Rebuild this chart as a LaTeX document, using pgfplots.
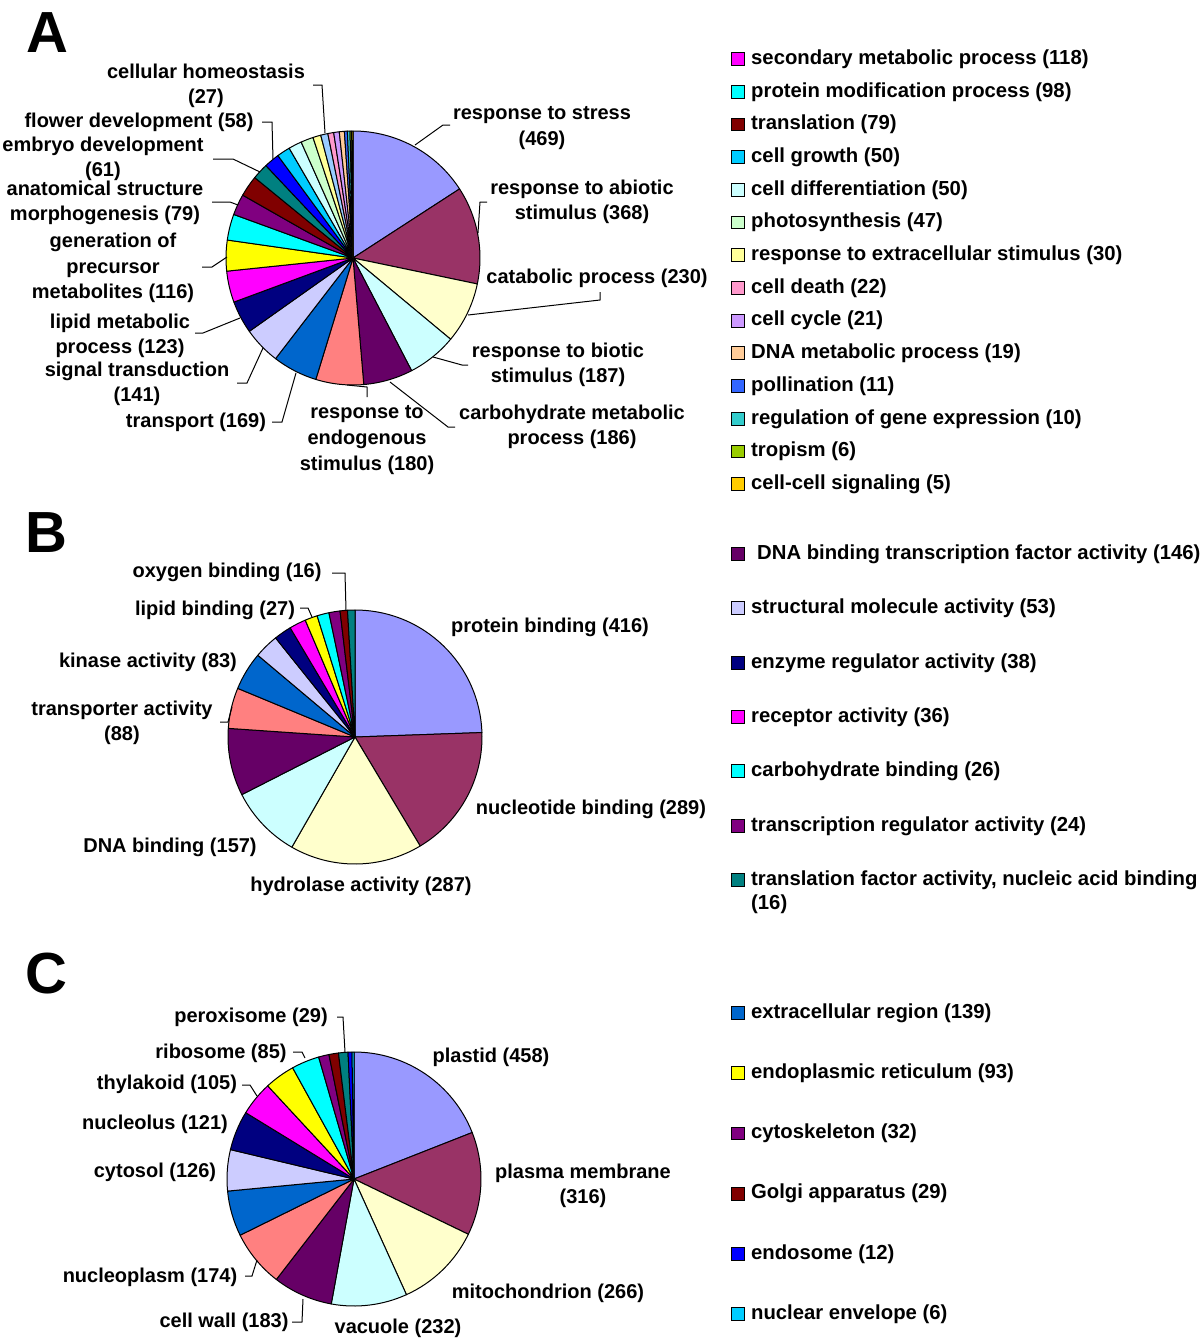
\documentclass[border=0pt]{standalone}
\usepackage{pgfplots}
\pgfplotsset{compat=1.18}
\usepackage{fontspec}
\setmainfont{Liberation Sans}
\definecolor{s1}{HTML}{9999FF}\definecolor{s2}{HTML}{993366}\definecolor{s3}{HTML}{FFFFCC}
\definecolor{s4}{HTML}{CCFFFF}\definecolor{s5}{HTML}{660066}\definecolor{s6}{HTML}{FF8080}
\definecolor{s7}{HTML}{0066CC}\definecolor{s8}{HTML}{CCCCFF}\definecolor{s9}{HTML}{000080}
\definecolor{s10}{HTML}{FF00FF}\definecolor{s11}{HTML}{FFFF00}\definecolor{s12}{HTML}{00FFFF}
\definecolor{s13}{HTML}{800080}\definecolor{s14}{HTML}{800000}\definecolor{s15}{HTML}{008080}
\definecolor{s16}{HTML}{0000FF}\definecolor{s17}{HTML}{00CCFF}\definecolor{s18}{HTML}{CCFFFF}
\definecolor{s19}{HTML}{CCFFCC}\definecolor{s20}{HTML}{FFFF99}\definecolor{s21}{HTML}{99CCFF}
\definecolor{s22}{HTML}{FF99CC}\definecolor{s23}{HTML}{CC99FF}\definecolor{s24}{HTML}{FFCC99}
\definecolor{s25}{HTML}{3366FF}\definecolor{s26}{HTML}{33CCCC}\definecolor{s27}{HTML}{99CC00}
\definecolor{s28}{HTML}{FFCC00}
% data: value/colour, in drawing order (clockwise from 12 o'clock)
\def\dataA{469/s1,368/s2,230/s3,187/s4,186/s5,180/s6,169/s7,141/s8,123/s9,118/s10,116/s11,98/s12,79/s13,79/s14,61/s15,58/s16,50/s17,50/s18,47/s19,30/s20,27/s21,22/s22,21/s23,19/s24,11/s25,10/s26,6/s27,5/s28}
\def\dataB{416/s1,289/s2,287/s3,157/s4,146/s5,88/s6,83/s7,53/s8,38/s9,36/s10,27/s11,26/s12,24/s13,16/s14,16/s15}
\def\dataC{458/s1,316/s2,266/s3,232/s4,183/s5,174/s6,139/s7,126/s8,121/s9,105/s10,93/s11,85/s12,32/s13,29/s14,29/s15,12/s16,6/s17}
\newcommand\drawpie[1]{%
  \gdef\pietot{0}%
  \foreach \v/\c in #1{\pgfmathparse{\pietot+\v}\xdef\pietot{\pgfmathresult}}%
  \gdef\piecum{0}%
  \foreach \v/\c in #1{%
    \pgfmathsetmacro\aS{90-360*(\piecum/\pietot)}%
    \pgfmathparse{\piecum+\v}\xdef\piecum{\pgfmathresult}%
    \pgfmathsetmacro\aE{90-360*(\piecum/\pietot)}%
    \pgfmathsetmacro\xS{cos(\aS)}%
    \pgfmathsetmacro\yS{sin(\aS)}%
    \edef\temp{\noexpand\filldraw[fill=\c,draw=black,line width=0.5pt,line join=round] (axis cs:0,0) -- (axis cs:\xS,\yS) arc[start angle=\aS,end angle=\aE,radius=63.5pt] -- cycle;}%
    \temp}}
\pgfplotsset{legsq/.style={legend image code/.code={\draw[##1,draw=black,line width=0.5pt] (0pt,-3.2pt) rectangle (6.4pt,3.2pt);}},
  pieaxis/.style={anchor=center, x=63.5pt, y=63.5pt, xmin=-1,xmax=1,ymin=-1,ymax=1, hide axis, clip=false, legend cell align=left},
  piele/.style 2 args={legend style={at={(#1,#2)}, anchor=north west, draw=none, fill=none, inner sep=0pt, outer sep=0pt, column sep=3.2pt, font=\fontsize{10.15}{12.2}\selectfont\bfseries, nodes={inner sep=0pt, text height=7.4pt, text depth=2.1pt}}}}
\begin{document}
\fontsize{10}{12.8}\selectfont\bfseries
\begin{tikzpicture}
\useasboundingbox (0pt,0pt) rectangle (600pt,-670pt);
% ---------------- A
\begin{axis}[pieaxis, at={(176.5pt,-129pt)}, piele={1.9882}{1.3208}, legend style={row sep=6.85pt}]
\drawpie{\dataA}
\addlegendimage{legsq,fill=s10}\addlegendentry{secondary metabolic process (118)}
\addlegendimage{legsq,fill=s12}\addlegendentry{protein modification process (98)}
\addlegendimage{legsq,fill=s14}\addlegendentry{translation (79)}
\addlegendimage{legsq,fill=s17}\addlegendentry{cell growth (50)}
\addlegendimage{legsq,fill=s18}\addlegendentry{cell differentiation (50)}
\addlegendimage{legsq,fill=s19}\addlegendentry{photosynthesis (47)}
\addlegendimage{legsq,fill=s20}\addlegendentry{response to extracellular stimulus (30)}
\addlegendimage{legsq,fill=s22}\addlegendentry{cell death (22)}
\addlegendimage{legsq,fill=s23}\addlegendentry{cell cycle (21)}
\addlegendimage{legsq,fill=s24}\addlegendentry{DNA metabolic process (19)}
\addlegendimage{legsq,fill=s25}\addlegendentry{pollination (11)}
\addlegendimage{legsq,fill=s26}\addlegendentry{regulation of gene expression (10)}
\addlegendimage{legsq,fill=s27}\addlegendentry{tropism (6)}
\addlegendimage{legsq,fill=s28}\addlegendentry{cell-cell signaling (5)}
\end{axis}
% ---------------- B
\begin{axis}[pieaxis, at={(177.5pt,-368.5pt)}, piele={1.9803}{1.2578}, legend style={row sep=17.67pt}]
\drawpie{\dataB}
\addlegendimage{legsq,fill=s5}\addlegendentry{\hspace*{3pt}DNA binding transcription factor activity (146)}
\addlegendimage{legsq,fill=s8}\addlegendentry{structural molecule activity (53)}
\addlegendimage{legsq,fill=s9}\addlegendentry{enzyme regulator activity (38)}
\addlegendimage{legsq,fill=s10}\addlegendentry{receptor activity (36)}
\addlegendimage{legsq,fill=s12}\addlegendentry{carbohydrate binding (26)}
\addlegendimage{legsq,fill=s13}\addlegendentry{transcription regulator activity (24)}
\addlegendimage{legsq,fill=s15}\addlegendentry{{\begin{tabular}[t]{@{}l@{}}translation factor activity, nucleic acid binding\\(16)\end{tabular}}}
\end{axis}
% ---------------- C
\begin{axis}[pieaxis, at={(177pt,-589.5pt)}, piele={1.984}{1.1909}, legend style={row sep=20.6pt}]
\drawpie{\dataC}
\addlegendimage{legsq,fill=s7}\addlegendentry{extracellular region (139)}
\addlegendimage{legsq,fill=s11}\addlegendentry{endoplasmic reticulum (93)}
\addlegendimage{legsq,fill=s13}\addlegendentry{cytoskeleton (32)}
\addlegendimage{legsq,fill=s14}\addlegendentry{Golgi apparatus (29)}
\addlegendimage{legsq,fill=s16}\addlegendentry{endosome (12)}
\addlegendimage{legsq,fill=s17}\addlegendentry{nuclear envelope (6)}
\end{axis}
% ---------------- labels (pixel coordinates of the reference)
\begin{scope}[x=0.5pt,y=-0.5pt, every node/.style={inner sep=0pt, align=center}, line width=0.5pt]
\node[anchor=base, font=\fontsize{29}{30}\selectfont\bfseries] at (47,52) {A};
\node[anchor=base, font=\fontsize{29}{30}\selectfont\bfseries] at (46,552) {B};
\node[anchor=base, font=\fontsize{29}{30}\selectfont\bfseries] at (46,993) {C};
% A
\node at (206,86) {cellular homeostasis\\(27)};
\node at (139,122) {flower development (58)};
\node at (103,159) {embryo development\\(61)};
\node at (105,203) {anatomical structure\\morphogenesis (79)};
\node at (113,268) {generation of\\precursor\\metabolites (116)};
\node at (120,336) {lipid metabolic\\process (123)};
\node at (137,384) {signal transduction\\(141)};
\node at (196,422) {transport (169)};
\node at (367,440) {response to\\endogenous\\stimulus (180)};
\node at (572,427) {carbohydrate metabolic\\process (186)};
\node at (558,365) {response to biotic\\stimulus (187)};
\node at (597,278) {catabolic process (230)};
\node at (582,202) {response to abiotic\\stimulus (368)};
\node at (542,128) {response to stress\\(469)};
\draw (313,85)--(322,85)--(325,133);
\draw (262,122)--(272,122)--(273,159);
\draw (213,159)--(233,159)--(260,172);
\draw (212,202)--(230,202)--(238,205);
\draw (202,267)--(212,267)--(227,257);
\draw (195,333)--(203,333)--(240,318);
\draw (237,383)--(247,383)--(263,348);
\draw (272,422)--(282,422)--(296,373);
\draw (347,385)--(367,387)--(367,397);
\draw (390,382)--(448,427)--(455,427);
\draw (433,357)--(462,365)--(468,365);
\draw (468,315)--(600,300)--(600,292);
\draw (478,233)--(480,202)--(487,202);
\draw (415,145)--(443,125)--(450,125);
% B
\node at (227,572) {oxygen binding (16)};
\node at (215,610) {lipid binding (27)};
\node at (148,662) {kinase activity (83)};
\node at (122,723) {transporter activity\\(88)};
\node at (170,847) {DNA binding (157)};
\node at (361,886) {hydrolase activity (287)};
\node at (591,809) {nucleotide binding (289)};
\node at (550,627) {protein binding (416)};
\draw (332,573)--(345,573)--(346,610);
\draw (300,608)--(308,608)--(312,617);
\draw (220,722)--(228,722)--(232,707);
% C
\node at (251,1017) {peroxisome (29)};
\node at (221,1053) {ribosome (85)};
\node at (167,1084) {thylakoid (105)};
\node at (155,1124) {nucleolus (121)};
\node at (155,1172) {cytosol (126)};
\node at (150,1277) {nucleoplasm (174)};
\node at (224,1322) {cell wall (183)};
\node at (398,1328) {vacuole (232)};
\node at (491,1057) {plastid (458)};
\node at (583,1186) {plasma membrane\\(316)};
\node at (548,1293) {mitochondrion (266)};
\draw (337,1017)--(343,1017)--(345,1052);
\draw (293,1052)--(302,1052)--(305,1058);
\draw (242,1085)--(250,1085)--(257,1096);
\draw (245,1276)--(252,1276)--(257,1260);
\draw (292,1322)--(302,1322)--(303,1299);
\end{scope}
\end{tikzpicture}
\end{document}
